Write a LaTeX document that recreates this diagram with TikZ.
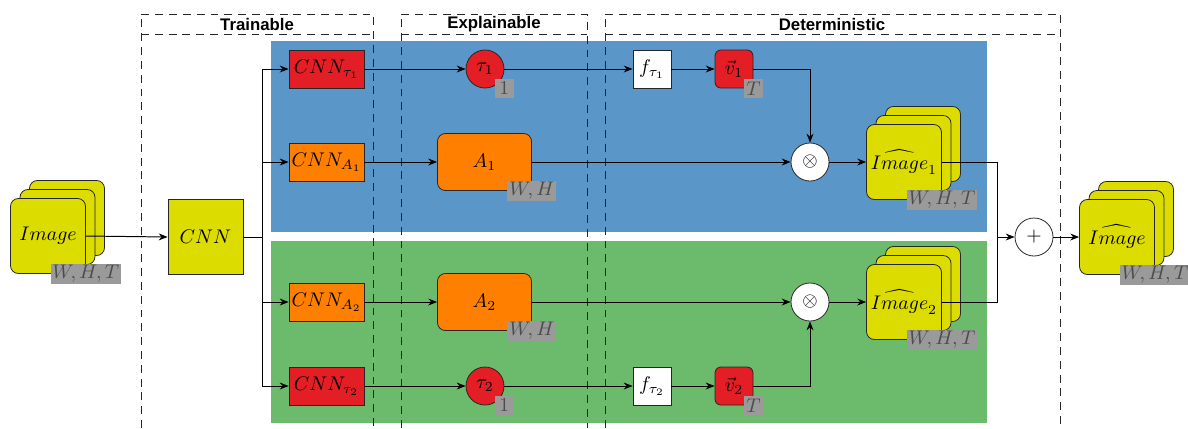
\documentclass[tikz,border=0pt]{standalone}
\usepackage{amsmath}
\usepackage{fontspec}
\newfontfamily\headfont{Liberation Sans}
\usetikzlibrary{arrows.meta}

\definecolor{bgblue}{HTML}{5A96C8}
\definecolor{bggreen}{HTML}{6CBB6C}
\definecolor{cnnyellow}{HTML}{DCDC00}
\definecolor{taured}{HTML}{E31E24}
\definecolor{attorange}{HTML}{FF8000}
\definecolor{dimgray}{HTML}{9A9A9A}

\newcommand{\pxu}{0.0178cm}

\tikzset{
  colbox/.style={draw=black!85, dash pattern={on 4pt off 3pt}, line width=0.5pt},
  headtxt/.style={font=\headfont\bfseries\fontsize{8.5}{10}\selectfont, inner sep=0pt},
  card/.style={draw=black!85, fill=cnnyellow, rounded corners=4pt, minimum width=75*\pxu, minimum height=75*\pxu, inner sep=0pt},
  cnnbox/.style={draw=black!85, fill=cnnyellow, minimum width=75*\pxu, minimum height=75*\pxu, inner sep=0pt},
  taubox/.style={draw=black!85, fill=taured, minimum width=75*\pxu, minimum height=38*\pxu, inner sep=0pt},
  attnet/.style={draw=black!85, fill=attorange, minimum width=75*\pxu, minimum height=38*\pxu, inner sep=0pt},
  attmap/.style={draw=black!85, fill=attorange, rounded corners=4pt, minimum width=94*\pxu, minimum height=57*\pxu, inner sep=0pt},
  tauc/.style={draw=black!85, fill=taured, circle, minimum size=38*\pxu, inner sep=0pt},
  fbox/.style={draw=black!85, fill=white, minimum width=38*\pxu, minimum height=38*\pxu, inner sep=0pt},
  vbox/.style={draw=black!85, fill=taured, rounded corners=3pt, minimum width=38*\pxu, minimum height=38*\pxu, inner sep=0pt},
  opc/.style={draw=black!85, fill=white, circle, minimum size=38*\pxu, inner sep=0pt},
  dimlab/.style={fill=dimgray, text=black!70, inner xsep=1pt, inner ysep=0.5pt, minimum height=18*\pxu},
  dimsq/.style={fill=dimgray, text=black!70, inner sep=0pt, minimum size=19*\pxu},
  arr/.style={-{Stealth[length=4.5pt,width=3.5pt]}, line width=0.5pt},
  ln/.style={line width=0.5pt}
}

\begin{document}
\begin{tikzpicture}[x=\pxu, y=-\pxu]
  \useasboundingbox (0,0) rectangle (1188,428);

  % backgrounds of the two branches
  \fill[bgblue] (271,41) rectangle (987,232);
  \fill[bggreen] (271,241) rectangle (987,423);

  % column frames
  \draw[colbox] (141,428) -- (141,14) -- (373,14) -- (373,428); % Trainable
  \draw[colbox] (141,34) -- (373,34);
  \draw[colbox] (401,428) -- (401,14) -- (587,14) -- (587,428); % Explainable
  \draw[colbox] (401,34) -- (587,34);
  \draw[colbox] (605,428) -- (605,14) -- (1060,14) -- (1060,428); % Deterministic
  \draw[colbox] (605,34) -- (1060,34);

  \node[headtxt] (trainhead) at (257,24) {Trainable};
  \node[headtxt] (explhead) at (494,24) {Explainable};
  \node[headtxt] (dethead) at (832,24) {Deterministic};

  % input stack
  \node[card] (imgL3) at (67,218) {};
  \node[card] (imgL2) at (57.5,227) {};
  \node[card] (imgL) at (48,236) {$Image$};

  \node[cnnbox] (cnn) at (205.5,237) {$CNN$};
  \coordinate (split) at (262,237);

  % blue branch
  \node[taubox] (cnnt1) at (326.5,69) {$CNN_{\tau_1}$};
  \node[attnet] (cnna1) at (326.5,162) {$CNN_{A_1}$};
  \node[tauc] (tau1) at (485,69) {$\tau_1$};
  \node[attmap] (att1) at (484.5,162) {$A_1$};
  \node[fbox] (ft1) at (652,69) {$f_{\tau_1}$};
  \node[vbox] (v1) at (734,69) {$\vec{v}_1$};
  \node[opc] (mult1) at (810,162) {$\otimes$};
  \node[card] (img1c) at (923,144) {};
  \node[card] (img1b) at (913.5,153) {};
  \node[card] (img1) at (904,162) {$\widehat{Image}_1$};

  % green branch
  \node[attnet] (cnna2) at (326.5,302) {$CNN_{A_2}$};
  \node[taubox] (cnnt2) at (326.5,386) {$CNN_{\tau_2}$};
  \node[attmap] (att2) at (484.5,302) {$A_2$};
  \node[tauc] (tau2) at (485,386) {$\tau_2$};
  \node[fbox] (ft2) at (652,386) {$f_{\tau_2}$};
  \node[vbox] (v2) at (734,386) {$\vec{v}_2$};
  \node[opc] (mult2) at (810,302) {$\otimes$};
  \node[card] (img2c) at (923,284) {};
  \node[card] (img2b) at (913.5,293) {};
  \node[card] (img2) at (904,302) {$\widehat{Image}_2$};

  % output
  \coordinate (join) at (997,237);
  \node[opc] (sum) at (1034,237) {$+$};
  \node[card] (imgO3) at (1136,219) {};
  \node[card] (imgO2) at (1126.5,228) {};
  \node[card] (imgO) at (1117,237) {$\widehat{Image}$};

  % size tags
  \node[dimlab] (imgLdim) at (imgL.south east) {$W,H,T$};
  \node[dimsq] (tau1dim) at (tau1.east |- tau1.south) {$1$};
  \node[dimsq] (v1dim) at (v1.south east) {$T$};
  \node[dimlab] (att1dim) at (att1.south east) {$W,H$};
  \node[dimlab] (img1dim) at (img1.south east) {$W,H,T$};
  \node[dimsq] (tau2dim) at (tau2.east |- tau2.south) {$1$};
  \node[dimsq] (v2dim) at (v2.south east) {$T$};
  \node[dimlab] (att2dim) at (att2.south east) {$W,H$};
  \node[dimlab] (img2dim) at (img2.south east) {$W,H,T$};
  \node[dimlab] (imgOdim) at (imgO.south east) {$W,H,T$};

  % connectors
  \draw[arr] (imgL.east) -- (cnn.west);
  \draw[ln] (cnn.east) -- (split);
  \draw[arr] (split) |- (cnnt1.west);
  \draw[arr] (split) |- (cnna1.west);
  \draw[arr] (split) |- (cnna2.west);
  \draw[arr] (split) |- (cnnt2.west);

  \draw[arr] (cnnt1) -- (tau1);
  \draw[arr] (tau1) -- (ft1);
  \draw[arr] (ft1) -- (v1);
  \draw[arr] (v1.east) -| (mult1.north);
  \draw[arr] (cnna1) -- (att1);
  \draw[arr] (att1) -- (mult1);
  \draw[arr] (mult1) -- (img1.west);

  \draw[arr] (cnna2) -- (att2);
  \draw[arr] (att2) -- (mult2);
  \draw[arr] (mult2) -- (img2.west);
  \draw[arr] (cnnt2) -- (tau2);
  \draw[arr] (tau2) -- (ft2);
  \draw[arr] (ft2) -- (v2);
  \draw[arr] (v2.east) -| (mult2.south);

  \draw[ln] (img1.east) -| (join);
  \draw[ln] (img2.east) -| (join);
  \draw[arr] (join) -- (sum);
  \draw[arr] (sum) -- (imgO.west);

\end{tikzpicture}
\end{document}
